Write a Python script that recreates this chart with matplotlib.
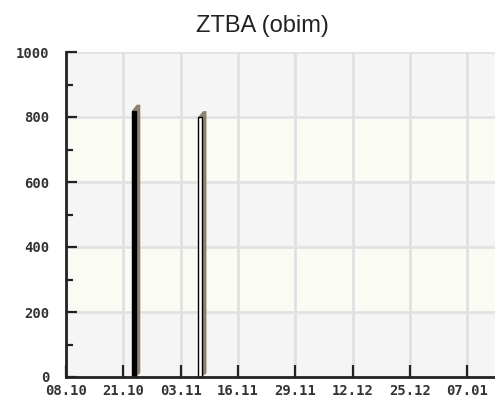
import matplotlib
matplotlib.use("Agg")
import matplotlib.pyplot as plt
import matplotlib.dates as mdates
from matplotlib.patches import Polygon
from matplotlib.ticker import MultipleLocator

title = "ZTBA (obim)"
tick_dates = ["2012-10-08", "2012-10-21", "2012-11-03", "2012-11-16",
              "2012-11-29", "2012-12-12", "2012-12-25", "2013-01-07"]
tick_labels = ["08.10", "21.10", "03.11", "16.11", "29.11", "12.12", "25.12", "07.01"]
bar_dates = ["2012-10-23", "2012-11-07"]
bar_values = [820, 800]
bar_faces = ["#000000", "#ffffff"]

band_edges = [0, 200, 400, 600, 800, 1000]
band_colors = ["#f5f5f5", "#fafbf3", "#f5f5f5", "#fafbf3", "#f5f5f5"]

fig = plt.figure(figsize=(4.95, 4.0), dpi=100)
ax = fig.add_axes([66/495, 23/400, 1 - 66/495, 325/400])

d0 = mdates.datestr2num(tick_dates[0])
xmax = d0 + 429/4.41
ax.set_xlim(d0, xmax)
ax.set_ylim(0, 1000)

for i in range(len(band_colors)):
    ax.axhspan(band_edges[i], band_edges[i+1], color=band_colors[i], zorder=0, lw=0)

tx = [mdates.datestr2num(t) for t in tick_dates]
for x in tx[1:]:
    ax.axvline(x, color="#e0e0e0", lw=2, zorder=1)
for y in band_edges[1:]:
    ax.axhline(y, color="#e2e2e2", lw=2, zorder=1)

width = 0.8
dx = 1.05
dy = 18
for d, v, fc in zip(bar_dates, bar_values, bar_faces):
    xl = mdates.datestr2num(d)
    xr = xl + width
    shadow = Polygon([(xl, v), (xl + dx, v + dy), (xr + dx, v + dy),
                      (xr + dx, 12), (xr, 0)], closed=True,
                     facecolor="#8f8170", edgecolor="none", zorder=2)
    ax.add_patch(shadow)
    ax.bar(xl, v, width=width, align="edge", color=fc, edgecolor="#000000",
           lw=1.0, zorder=3)

ax.set_xticks(tx)
ax.set_xticklabels(tick_labels)
ax.yaxis.set_major_locator(MultipleLocator(200))
ax.yaxis.set_minor_locator(MultipleLocator(100))

for lab in ax.get_xticklabels() + ax.get_yticklabels():
    lab.set_fontfamily("DejaVu Sans Mono")
    lab.set_fontweight("bold")
    lab.set_fontsize(10)
    lab.set_color("#333333")

ax.tick_params(axis="y", which="major", direction="in", length=8, width=1.6,
               color="#222222", pad=12)
ax.tick_params(axis="y", which="minor", direction="in", length=5, width=1.6,
               color="#222222")
ax.tick_params(axis="x", which="major", direction="in", length=9, width=1.6,
               color="#222222", pad=5)

for s in ["top", "right"]:
    ax.spines[s].set_visible(False)
for s in ["left", "bottom"]:
    ax.spines[s].set_color("#222222")
    ax.spines[s].set_linewidth(2)
    ax.spines[s].set_zorder(5)

fig.text(262/495, 1 - 32/400, title, ha="center", va="baseline",
         fontsize=17, family="Liberation Sans", color="#222222")

fig.savefig("out.png", dpi=100)
